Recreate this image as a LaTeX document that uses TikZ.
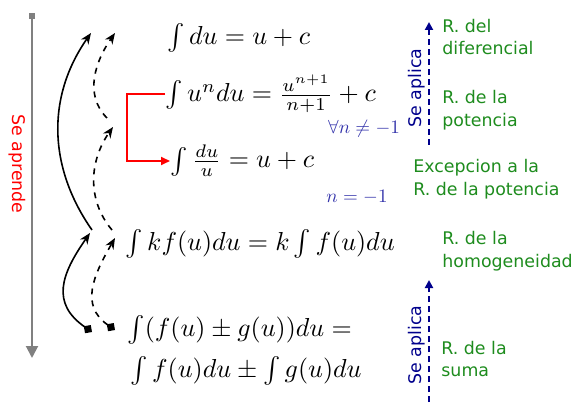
\documentclass[tikz,border=0pt]{standalone}
\usepackage{amsmath,amssymb}
\usepackage{fontspec}
\newfontfamily\labelfont{DejaVu Sans}
\usetikzlibrary{arrows.meta}
\definecolor{rulegreen}{RGB}{30,140,30}
\definecolor{condblue}{RGB}{50,50,170}
\definecolor{applyblue}{RGB}{0,0,140}

\begin{document}
\begin{tikzpicture}[x=0.5pt,y=0.5pt,
  formula/.style={anchor=west,inner sep=0pt,scale=1.3,transform shape},
  rulelabel/.style={anchor=west,inner sep=0pt,align=left,text=rulegreen,font=\labelfont\fontsize{8.7}{11.3}\selectfont},
  cond/.style={inner sep=0pt,text=condblue,scale=0.95,transform shape},
  sidetext/.style={inner sep=0pt,rotate=90,font=\labelfont\fontsize{8.7}{10}\selectfont},
  uses/.style={draw=applyblue,line width=1pt,densely dashed,-{Triangle[length=4pt,width=4pt]}},
  learn/.style={draw=black,thick,-{Stealth[length=5.5pt,width=4.5pt]}}
]
\useasboundingbox (0,0) rectangle (578,402);

% orden en que se aprende
\coordinate (learntop) at (32,389);
\coordinate (learnbot) at (32,44);
\draw[gray,line width=1pt,{Square[length=3pt,width=3pt]}-{Triangle[length=6pt,width=6pt]}] (learntop) -- (learnbot);
\node[inner sep=0pt,rotate=-90,text=red,font=\labelfont\fontsize{8.7}{10}\selectfont] (learnlbl) at (17,238) {Se aprende};

% formulas
\node[formula] (fdu) at (167,364) {$\int du = u + c$};
\node[formula] (fpow) at (165,308) {$\int u^n du = \frac{u^{n+1}}{n+1} + c$};
\node[formula] (fexc) at (170,241) {$\int \frac{du}{u} = u + c$};
\node[formula] (fk) at (125,158) {$\int k f(u) du = k \int f(u) du$};
\node[formula] (fsum) at (127,72) {$\int (f(u) \pm g(u))du =$};
\node[formula] (fsumb) at (130,31) {$\int f(u)du \pm \int g(u)du$};

\node[cond] (cnot) at (364,273) {$\forall n \neq -1$};
\node[cond] (cone) at (357,205) {$n = -1$};

\draw[red,line width=1pt,-{Triangle[length=4.5pt,width=4pt]}] (fpow.west) -- ++(-38,0) |- (fexc.west);

% reglas
\node[rulelabel] (ldif) at (442,365) {R. del\\diferencial};
\node[rulelabel] (lpot) at (442,292) {R. de la\\potencia};
\node[rulelabel] (lexc) at (413,223) {Excepcion a la\\R. de la potencia};
\node[rulelabel] (lhom) at (442,151) {R. de la\\homogeneidad};
\node[rulelabel] (lsum) at (441,43) {R. de la\\suma};

% se aplica
\coordinate (upas) at (429,257);
\coordinate (upae) at (429,380);
\coordinate (upbs) at (429,0);
\coordinate (upbe) at (429,122);
\draw[uses] (upas) -- (upae);
\draw[uses] (upbs) -- (upbe);
\node[sidetext,text=applyblue] (apla) at (417,314) {Se aplica};
\node[sidetext,text=applyblue] (aplb) at (417,57) {Se aplica};

% flechas de dependencia
\coordinate (sumsolid) at (92,70);
\coordinate (sumdash) at (115,72);
\coordinate (homsolidin) at (90,169);
\coordinate (homdashin) at (115,164);
\coordinate (homsolid) at (92,172);
\coordinate (homdash) at (112,172);
\coordinate (powdashin) at (113,275);
\coordinate (powdash) at (107,284);
\coordinate (dusolid) at (91,369);
\coordinate (dudash) at (115,369);

\draw[learn,{Diamond[length=5pt,width=5pt]}-{Stealth[length=5.5pt,width=4.5pt]}] (sumsolid) to[out=145,in=235,looseness=1.3] (homsolidin);
\draw[learn,dashed,{Diamond[length=5pt,width=5pt]}-{Stealth[length=5.5pt,width=4.5pt]}] (sumdash) to[out=145,in=240,looseness=1.2] (homdashin);
\draw[learn] (homsolid) to[out=125,in=235] (dusolid);
\draw[learn,dashed] (homdash) to[out=130,in=235] (powdashin);
\draw[learn,dashed] (powdash) to[out=135,in=235] (dudash);
\end{tikzpicture}
\end{document}
